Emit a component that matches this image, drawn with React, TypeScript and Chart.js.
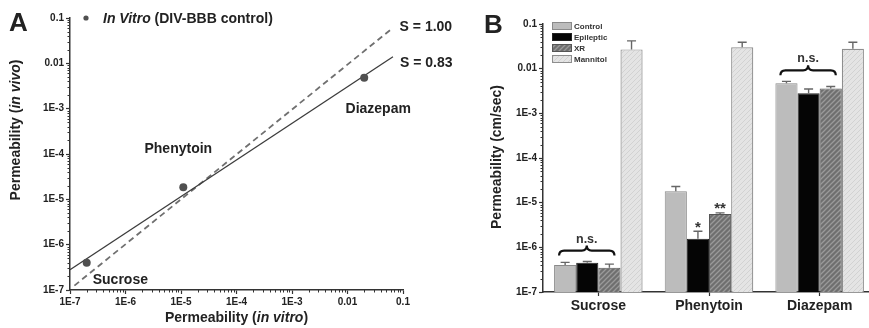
import React, { useEffect, useRef } from 'react';
import { Chart, registerables } from 'chart.js';
Chart.register(...registerables);

// ---------- Data ----------
const drugs = ['Sucrose', 'Phenytoin', 'Diazepam'];

// Panel A
const inVitro = [2.0e-7, 1.1e-5, 0.02];
const inVivo = [4.0e-7, 1.85e-5, 4.8e-3];
const fitLineX = [1e-7, 0.066];
const fitLineY = [2.8e-7, 0.014];
const unityLineX = [1.2e-7, 0.065];
const unityLineY = [1.25e-7, 0.06];
const slopeLabels = ['S = 1.00', 'S = 0.83'];
const legendA = [{ t: 'In Vitro', i: true }, { t: ' (DIV-BBB control)', i: false }];
const xTitleA = [{ t: 'Permeability (', i: false }, { t: 'in vitro', i: true }, { t: ')', i: false }];
const yTitleA = [{ t: 'Permeability (', i: false }, { t: 'in vivo', i: true }, { t: ')', i: false }];

// Panel B
const groups = ['Control', 'Epileptic', 'XR', 'Mannitol'];
const controlVals = [4.0e-7, 1.8e-5, 4.7e-3];
const controlErr = [4.6e-7, 2.3e-5, 5.2e-3];
const epilepticVals = [4.5e-7, 1.55e-6, 2.8e-3];
const epilepticErr = [4.8e-7, 2.3e-6, 3.5e-3];
const xrVals = [3.5e-7, 5.6e-6, 3.6e-3];
const xrErr = [4.2e-7, 5.9e-6, 4.0e-3];
const mannitolVals = [0.027, 0.030, 0.028];
const mannitolErr = [0.042, 0.039, 0.039];
const yTitleB = 'Permeability (cm/sec)';
const nsGroups = [0, 2]; // categories marked n.s.
const starMarks = [{ cat: 1, ds: 1, text: '*' }, { cat: 1, ds: 2, text: '**' }];

// Axis ticks
const decadeValues = [1e-7, 1e-6, 1e-5, 1e-4, 1e-3, 1e-2, 1e-1];
const decadeLabels = ['1E-7', '1E-6', '1E-5', '1E-4', '1E-3', '0.01', '0.1'];

// ---------- Styles ----------
const FONT = "'Liberation Sans', Arial, Helvetica, sans-serif";
const TXT = '#222';
const AXIS = '#333';

const minorValues: number[] = [];
for (let i = 0; i < decadeValues.length - 1; i++) {
  for (let k = 2; k <= 9; k++) minorValues.push(decadeValues[i] * k);
}

function drawRich(ctx: CanvasRenderingContext2D, parts: { t: string; i: boolean }[], x: number, y: number, size: number, align: 'left' | 'center') {
  const fonts = parts.map(p => `${p.i ? 'italic ' : ''}bold ${size}px ${FONT}`);
  const widths = parts.map((p, k) => { ctx.font = fonts[k]; return ctx.measureText(p.t).width; });
  const total = widths.reduce((a, b) => a + b, 0);
  let cur = align === 'center' ? x - total / 2 : x;
  ctx.textAlign = 'left';
  parts.forEach((p, k) => { ctx.font = fonts[k]; ctx.fillText(p.t, cur, y); cur += widths[k]; });
}

function makeHatch(bg: string, fg: string, size: number, lw: number) {
  const c = document.createElement('canvas');
  c.width = size; c.height = size;
  const g = c.getContext('2d')!;
  g.fillStyle = bg; g.fillRect(0, 0, size, size);
  g.strokeStyle = fg; g.lineWidth = lw;
  g.beginPath();
  g.moveTo(0, size); g.lineTo(size, 0);
  g.moveTo(-size / 2, size / 2); g.lineTo(size / 2, -size / 2);
  g.moveTo(size / 2, size * 1.5); g.lineTo(size * 1.5, size / 2);
  g.stroke();
  return g.createPattern(c, 'repeat')!;
}

function minorTicks(chart: any, axes: ('x' | 'y')[]) {
  const ctx = chart.ctx as CanvasRenderingContext2D;
  ctx.save();
  ctx.strokeStyle = AXIS; ctx.lineWidth = 1;
  ctx.beginPath();
  if (axes.includes('x')) {
    const xs = chart.scales.x; const b = chart.chartArea.bottom;
    minorValues.forEach(v => { const px = Math.round(xs.getPixelForValue(v)) + 0.5; ctx.moveTo(px, b); ctx.lineTo(px, b + 2.5); });
  }
  if (axes.includes('y')) {
    const ys = chart.scales.y; const l = chart.chartArea.left;
    minorValues.forEach(v => { const py = Math.round(ys.getPixelForValue(v)) + 0.5; ctx.moveTo(l - 2.5, py); ctx.lineTo(l, py); });
  }
  ctx.stroke();
  ctx.restore();
}

const logTicks = (size: number) => ({
  callback: (_v: any, i: number) => decadeLabels[i],
  autoSkip: false, maxRotation: 0, padding: 2, color: TXT,
  font: { family: FONT, size, weight: 'bold' as const },
});

// ---------- Panel A plugin ----------
const annotA = {
  id: 'annotA',
  afterDraw(chart: any) {
    const ctx = chart.ctx as CanvasRenderingContext2D;
    const xs = chart.scales.x, ys = chart.scales.y;
    minorTicks(chart, ['x', 'y']);
    ctx.save();
    ctx.fillStyle = TXT;
    ctx.textBaseline = 'alphabetic';
    // panel letter
    ctx.font = `bold 26px ${FONT}`; ctx.textAlign = 'left';
    ctx.fillText('A', 9, 31);
    // legend
    ctx.fillStyle = '#505050';
    ctx.beginPath(); ctx.arc(86, 18, 2.6, 0, Math.PI * 2); ctx.fill();
    ctx.fillStyle = TXT;
    drawRich(ctx, legendA, 103, 23, 14, 'left');
    // point labels
    const px = inVitro.map(v => xs.getPixelForValue(v));
    const py = inVivo.map(v => ys.getPixelForValue(v));
    ctx.font = `bold 14px ${FONT}`;
    ctx.textAlign = 'left'; ctx.fillText(drugs[0], px[0] + 6, py[0] + 21);
    ctx.textAlign = 'center'; ctx.fillText(drugs[1], px[1] - 5, py[1] - 34);
    ctx.textAlign = 'center'; ctx.fillText(drugs[2], px[2] + 14, py[2] + 35);
    // slope labels
    ctx.textAlign = 'left';
    const ux = xs.getPixelForValue(unityLineX[1]), uy = ys.getPixelForValue(unityLineY[1]);
    const fx = xs.getPixelForValue(fitLineX[1]), fy = ys.getPixelForValue(fitLineY[1]);
    ctx.fillText(slopeLabels[0], ux + 7, uy + 3);
    ctx.fillText(slopeLabels[1], fx + 7, fy + 10);
    // axis titles
    drawRich(ctx, xTitleA, (chart.chartArea.left + chart.chartArea.right) / 2, 322, 14, 'center');
    ctx.save();
    ctx.translate(20, 130); ctx.rotate(-Math.PI / 2);
    drawRich(ctx, yTitleA, 0, 0, 14, 'center');
    ctx.restore();
    ctx.restore();
  },
};

// ---------- Panel B plugin ----------
const errSets = [controlErr, epilepticErr, xrErr, mannitolErr];

function brace(ctx: CanvasRenderingContext2D, x1: number, x2: number, yTip: number, h: number) {
  const xm = (x1 + x2) / 2; const yBar = yTip - h * 0.5; const q = 5;
  ctx.beginPath();
  ctx.moveTo(x1, yTip);
  ctx.quadraticCurveTo(x1, yBar, x1 + q, yBar);
  ctx.lineTo(xm - q, yBar);
  ctx.quadraticCurveTo(xm, yBar, xm, yTip - h);
  ctx.quadraticCurveTo(xm, yBar, xm + q, yBar);
  ctx.lineTo(x2 - q, yBar);
  ctx.quadraticCurveTo(x2, yBar, x2, yTip);
  ctx.stroke();
}

const annotB = {
  id: 'annotB',
  afterDatasetsDraw(chart: any) {
    const ctx = chart.ctx as CanvasRenderingContext2D;
    const ys = chart.scales.y;
    ctx.save();
    ctx.strokeStyle = '#666'; ctx.lineWidth = 1.4;
    errSets.forEach((errs, d) => {
      const meta = chart.getDatasetMeta(d);
      meta.data.forEach((el: any, j: number) => {
        const ye = ys.getPixelForValue(errs[j]);
        ctx.beginPath();
        ctx.moveTo(el.x, el.y); ctx.lineTo(el.x, ye);
        ctx.moveTo(el.x - 4.5, ye); ctx.lineTo(el.x + 4.5, ye);
        ctx.stroke();
      });
    });
    ctx.restore();
  },
  afterDraw(chart: any) {
    const ctx = chart.ctx as CanvasRenderingContext2D;
    const ys = chart.scales.y;
    minorTicks(chart, ['y']);
    ctx.save();
    ctx.fillStyle = TXT; ctx.textBaseline = 'alphabetic';
    ctx.font = `bold 26px ${FONT}`; ctx.textAlign = 'left';
    ctx.fillText('B', 54, 33);
    // legend
    const fills = chart.data.datasets.map((d: any) => d.backgroundColor);
    const borders = chart.data.datasets.map((d: any) => d.borderColor);
    groups.forEach((g, k) => {
      const cy = 26 + k * 11;
      ctx.fillStyle = fills[k]; ctx.fillRect(122, cy - 4, 20, 8);
      ctx.strokeStyle = borders[k]; ctx.lineWidth = 1; ctx.strokeRect(122.5, cy - 3.5, 19, 7);
      ctx.fillStyle = '#333'; ctx.font = `bold 8px ${FONT}`; ctx.textAlign = 'left';
      ctx.fillText(g, 144, cy + 3);
    });
    // n.s. braces
    ctx.strokeStyle = '#111'; ctx.lineWidth = 2.2; ctx.fillStyle = '#333';
    nsGroups.forEach(c => {
      const m0 = chart.getDatasetMeta(0).data[c] as any;
      const m2 = chart.getDatasetMeta(2).data[c] as any;
      const x1 = m0.x - m0.width / 2 + 5, x2 = m2.x + m2.width / 2 - 6;
      const top = Math.min(...[0, 1, 2].map(d => ys.getPixelForValue(errSets[d][c])));
      brace(ctx, x1, x2, top - 6, 10);
      ctx.font = `bold 12.5px ${FONT}`; ctx.textAlign = 'center';
      ctx.fillText('n.s.', (x1 + x2) / 2, top - 19);
    });
    // stars
    starMarks.forEach(s => {
      const el = chart.getDatasetMeta(s.ds).data[s.cat] as any;
      const ye = ys.getPixelForValue(errSets[s.ds][s.cat]);
      ctx.font = `bold 15px ${FONT}`; ctx.textAlign = 'center';
      ctx.fillText(s.text, el.x, ye + 0.5);
    });
    // y title
    ctx.translate(66, 157); ctx.rotate(-Math.PI / 2);
    ctx.fillStyle = TXT; ctx.font = `bold 14px ${FONT}`; ctx.textAlign = 'center';
    ctx.fillText(yTitleB, 0, 5);
    ctx.restore();
  },
};

export default function App() {
  const refA = useRef<HTMLCanvasElement>(null);
  const refB = useRef<HTMLCanvasElement>(null);
  useEffect(() => {
    const logAxisBase = {
      type: 'logarithmic' as const, min: 1e-7, max: 0.1,
      afterBuildTicks: (ax: any) => { ax.ticks = decadeValues.map(v => ({ value: v })); },
      grid: { drawOnChartArea: false, tickLength: 4, tickColor: AXIS, tickWidth: 1.2 },
      border: { color: AXIS, width: 1.5 },
    };
    const a = new Chart(refA.current!, {
      type: 'scatter',
      data: {
        datasets: [
          { label: 'In Vitro (DIV-BBB control)', data: inVitro.map((x, i) => ({ x, y: inVivo[i] })), pointRadius: 4, pointBackgroundColor: '#505050', pointBorderWidth: 0, showLine: false, order: 0 } as any,
          { label: slopeLabels[1], data: fitLineX.map((x, i) => ({ x, y: fitLineY[i] })), showLine: true, pointRadius: 0, borderColor: '#3c3c3c', borderWidth: 1.3, order: 1 },
          { label: slopeLabels[0], data: unityLineX.map((x, i) => ({ x, y: unityLineY[i] })), showLine: true, pointRadius: 0, borderColor: '#707070', borderWidth: 1.8, borderDash: [6, 4], order: 2 },
        ],
      },
      options: {
        animation: false, responsive: false,
        layout: { padding: { top: 18, right: 77, left: 0, bottom: 0 } },
        plugins: { legend: { display: false }, tooltip: { enabled: false } },
        scales: {
          x: { ...logAxisBase, position: 'bottom', afterFit: (ax: any) => { ax.height = 38; }, ticks: logTicks(10) } as any,
          y: { ...logAxisBase, position: 'left', afterFit: (ax: any) => { ax.width = 70; }, ticks: logTicks(10) } as any,
        },
      },
      plugins: [annotA],
    });

    const hatchXR = makeHatch('#6f6f6f', '#9a9a9a', 5, 1.3);
    const hatchMan = makeHatch('#e4e4e4', '#d2d2d2', 5, 1);
    const b = new Chart(refB.current!, {
      type: 'bar',
      data: {
        labels: drugs,
        datasets: [
          { label: groups[0], data: controlVals, backgroundColor: '#bcbcbc', borderColor: '#8a8a8a', borderWidth: 1 },
          { label: groups[1], data: epilepticVals, backgroundColor: '#050505', borderColor: '#222', borderWidth: 1 },
          { label: groups[2], data: xrVals, backgroundColor: hatchXR as any, borderColor: '#555', borderWidth: 1 },
          { label: groups[3], data: mannitolVals, backgroundColor: hatchMan as any, borderColor: '#8e8e8e', borderWidth: 1.2 },
        ],
      },
      options: {
        animation: false, responsive: false,
        datasets: { bar: { categoryPercentage: 0.8, barPercentage: 1 } },
        layout: { padding: { top: 24, right: 5, left: 0, bottom: 0 } },
        plugins: { legend: { display: false }, tooltip: { enabled: false } },
        scales: {
          x: {
            type: 'category', offset: true,
            afterFit: (ax: any) => { ax.height = 36; },
            grid: { drawOnChartArea: false, offset: false, tickLength: 4, tickColor: AXIS, tickWidth: 1.2 },
            border: { color: AXIS, width: 1.5 },
            ticks: { color: TXT, padding: 2, font: { family: FONT, size: 14, weight: 'bold' } },
          } as any,
          y: { ...logAxisBase, position: 'left', afterFit: (ax: any) => { ax.width = 113; }, ticks: logTicks(10) } as any,
        },
      },
      plugins: [annotB],
    });
    return () => { a.destroy(); b.destroy(); };
  }, []);

  return (
    <div style={{ position: 'fixed', left: 0, top: 0, width: 869, height: 328, overflow: 'hidden', background: '#fff' }}>
      <canvas ref={refA} width={480} height={328} style={{ position: 'absolute', left: 0, top: 0 }} />
      <canvas ref={refB} width={450} height={328} style={{ position: 'absolute', left: 430, top: 0 }} />
    </div>
  );
}
